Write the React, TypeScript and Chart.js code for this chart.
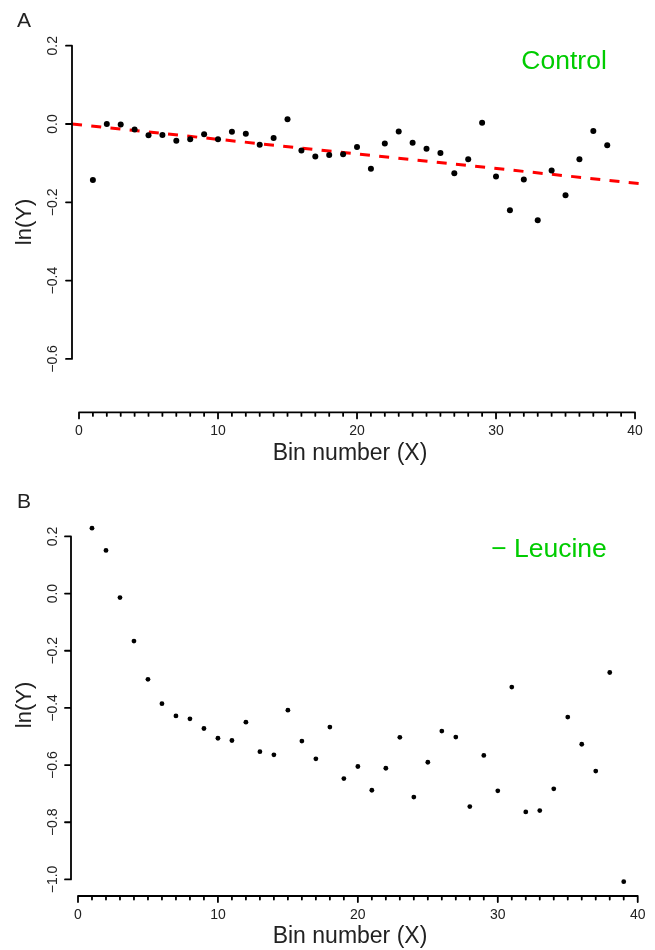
import React, { useEffect, useRef } from "react";
import { Chart, registerables } from "chart.js";

Chart.register(...registerables);

// ---------- Data ----------
const BINS_A = [1, 2, 3, 4, 5, 6, 7, 8, 9, 10, 11, 12, 13, 14, 15, 16, 17, 18, 19, 20, 21, 22, 23, 24, 25, 26, 27, 28, 29, 30, 31, 32, 33, 34, 35, 36, 37, 38];
const LNY_CONTROL = [
  -0.143, 0.0, -0.001, -0.014, -0.029, -0.028, -0.043, -0.039, -0.026, -0.039,
  -0.02, -0.025, -0.053, -0.036, 0.012, -0.068, -0.083, -0.079, -0.077, -0.059,
  -0.114, -0.05, -0.019, -0.048, -0.063, -0.074, -0.126, -0.09, 0.003, -0.134,
  -0.22, -0.142, -0.246, -0.119, -0.182, -0.09, -0.018, -0.054,
];
const FIT_X = [-0.5, 40.43];
const FIT_Y = [0.0, -0.1525];

const BINS_B = [1, 2, 3, 4, 5, 6, 7, 8, 9, 10, 11, 12, 13, 14, 15, 16, 17, 18, 19, 20, 21, 22, 23, 24, 25, 26, 27, 28, 29, 30, 31, 32, 33, 34, 35, 36, 37, 38, 39];
const LNY_LEUCINE = [
  0.229, 0.151, -0.014, -0.166, -0.3, -0.385, -0.428, -0.438, -0.472, -0.506,
  -0.514, -0.45, -0.553, -0.564, -0.408, -0.516, -0.578, -0.467, -0.647, -0.605,
  -0.688, -0.611, -0.503, -0.712, -0.59, -0.481, -0.502, -0.745, -0.566, -0.69,
  -0.327, -0.764, -0.759, -0.683, -0.432, -0.527, -0.621, -0.276, -1.008,
];

const X_TICK_VALUES = [0, 10, 20, 30, 40];
const X_TICK_LABELS = ["0", "10", "20", "30", "40"];
const Y_TICKS_A = [0.2, 0.0, -0.2, -0.4, -0.6];
const Y_LABELS_A = ["0.2", "0.0", "\u22120.2", "\u22120.4", "\u22120.6"];
const Y_TICKS_B = [0.2, 0.0, -0.2, -0.4, -0.6, -0.8, -1.0];
const Y_LABELS_B = ["0.2", "0.0", "\u22120.2", "\u22120.4", "\u22120.6", "\u22120.8", "\u22121.0"];

const X_TITLE = "Bin number (X)";
const Y_TITLE = "ln(Y)";

// ---------- Styling / layout ----------
const FONT = "'Liberation Sans', Arial, Helvetica, sans-serif";
const TEXT = "#222";
const GREEN = "#00cc00";

type Panel = {
  letter: string;
  note: string;
  bins: number[];
  values: number[];
  yTicks: number[];
  yLabels: string[];
  xMin: number;
  xMax: number;
  yMin: number;
  yMax: number;
  padding: { left: number; right: number; top: number; bottom: number };
  pointRadius: number;
  noteBaseline: number;
  letterBaseline: number;
  fit: boolean;
};

const PANEL_A: Panel = {
  letter: "A",
  note: "Control",
  bins: BINS_A,
  values: LNY_CONTROL,
  yTicks: Y_TICKS_A,
  yLabels: Y_LABELS_A,
  xMin: -0.504,
  xMax: 40.43,
  yMin: -0.7366,
  yMax: 0.236,
  padding: { left: 72, right: 14, top: 31.6, bottom: 62.6 },
  pointRadius: 3,
  noteBaseline: 68.5,
  letterBaseline: 27,
  fit: true,
};

const PANEL_B: Panel = {
  letter: "B",
  note: "\u2212 Leucine",
  bins: BINS_B,
  values: LNY_LEUCINE,
  yTicks: Y_TICKS_B,
  yLabels: Y_LABELS_B,
  xMin: -0.5,
  xMax: 40.52,
  yMin: -1.058,
  yMax: 0.2785,
  padding: { left: 71, right: 10, top: 39, bottom: 54 },
  pointRadius: 2.4,
  noteBaseline: 81.7,
  letterBaseline: 32.5,
  fit: false,
};

function rAxesPlugin(p: Panel) {
  return {
    id: "rAxes" + p.letter,
    afterDraw(chart: any) {
      const ctx: CanvasRenderingContext2D = chart.ctx;
      const xs = chart.scales.x;
      const ys = chart.scales.y;
      const ca = chart.chartArea;
      ctx.save();
      ctx.strokeStyle = "#000";
      ctx.lineWidth = 1.8;
      ctx.lineCap = "round";

      // y axis
      const ax = ca.left;
      const yTop = ys.getPixelForValue(Math.max(...p.yTicks));
      const yBot = ys.getPixelForValue(Math.min(...p.yTicks));
      ctx.beginPath();
      ctx.moveTo(ax, yTop);
      ctx.lineTo(ax, yBot);
      p.yTicks.forEach((v) => {
        const y = ys.getPixelForValue(v);
        ctx.moveTo(ax, y);
        ctx.lineTo(ax - 6, y);
      });
      ctx.stroke();

      // x axis
      const ay = ca.bottom;
      const x0 = xs.getPixelForValue(X_TICK_VALUES[0]);
      const x1 = xs.getPixelForValue(X_TICK_VALUES[X_TICK_VALUES.length - 1]);
      ctx.beginPath();
      ctx.moveTo(x0, ay);
      ctx.lineTo(x1, ay);
      for (let v = X_TICK_VALUES[0]; v <= X_TICK_VALUES[X_TICK_VALUES.length - 1]; v += 1) {
        const x = xs.getPixelForValue(v);
        const major = X_TICK_VALUES.includes(v);
        ctx.moveTo(x, ay);
        ctx.lineTo(x, ay + (major ? 6 : 3.5));
      }
      ctx.stroke();

      // tick labels
      ctx.fillStyle = TEXT;
      ctx.font = `14px ${FONT}`;
      ctx.textAlign = "center";
      ctx.textBaseline = "alphabetic";
      p.yTicks.forEach((v, i) => {
        const y = ys.getPixelForValue(v);
        ctx.save();
        ctx.translate(57, y);
        ctx.rotate(-Math.PI / 2);
        ctx.fillText(p.yLabels[i], 0, 0);
        ctx.restore();
      });
      X_TICK_VALUES.forEach((v, i) => {
        ctx.fillText(X_TICK_LABELS[i], xs.getPixelForValue(v), ay + 22.5);
      });

      // axis titles
      ctx.font = `23px ${FONT}`;
      ctx.fillText(X_TITLE, 350, ay + 47.3);
      ctx.save();
      ctx.translate(31, (ca.top + ca.bottom) / 2);
      ctx.rotate(-Math.PI / 2);
      ctx.font = `22px ${FONT}`;
      ctx.fillText(Y_TITLE, 0, 0);
      ctx.restore();

      // panel letter
      ctx.textAlign = "left";
      ctx.font = `21px ${FONT}`;
      ctx.fillText(p.letter, 17, p.letterBaseline);

      // annotation
      ctx.textAlign = "right";
      ctx.fillStyle = GREEN;
      ctx.font = `26.5px ${FONT}`;
      ctx.fillText(p.note, 606.8, p.noteBaseline);

      ctx.restore();
    },
  };
}

function makeChart(canvas: HTMLCanvasElement, p: Panel) {
  const datasets: any[] = [
    {
      label: "points",
      data: p.bins.map((b, i) => ({ x: b, y: p.values[i] })),
      pointRadius: p.pointRadius,
      pointHoverRadius: p.pointRadius,
      pointBackgroundColor: "#000",
      pointBorderColor: "#000",
      pointBorderWidth: 0,
      showLine: false,
      order: 1,
    },
  ];
  if (p.fit) {
    datasets.push({
      label: "fit",
      data: FIT_X.map((x, i) => ({ x, y: FIT_Y[i] })),
      showLine: true,
      borderColor: "#ff0000",
      borderWidth: 3,
      borderDash: [10, 9.3],
      borderCapStyle: "butt",
      pointRadius: 0,
      fill: false,
      order: 2,
    });
  }
  return new Chart(canvas, {
    type: "scatter",
    data: { datasets },
    options: {
      animation: false,
      responsive: false,
      events: [],
      layout: { padding: p.padding },
      plugins: { legend: { display: false }, tooltip: { enabled: false }, title: { display: false } },
      scales: {
        x: { type: "linear", display: false, min: p.xMin, max: p.xMax },
        y: { type: "linear", display: false, min: p.yMin, max: p.yMax },
      },
    },
    plugins: [rAxesPlugin(p)],
  } as any);
}

export default function App() {
  const refA = useRef<HTMLCanvasElement>(null);
  const refB = useRef<HTMLCanvasElement>(null);
  useEffect(() => {
    const a = makeChart(refA.current!, PANEL_A);
    const b = makeChart(refB.current!, PANEL_B);
    return () => {
      a.destroy();
      b.destroy();
    };
  }, []);
  return (
    <div style={{ position: "fixed", left: 0, top: 0, width: 655, height: 950, background: "#fff" }}>
      <canvas ref={refA} width={655} height={475} style={{ display: "block", width: 655, height: 475 }} />
      <canvas ref={refB} width={655} height={475} style={{ display: "block", width: 655, height: 475 }} />
    </div>
  );
}
